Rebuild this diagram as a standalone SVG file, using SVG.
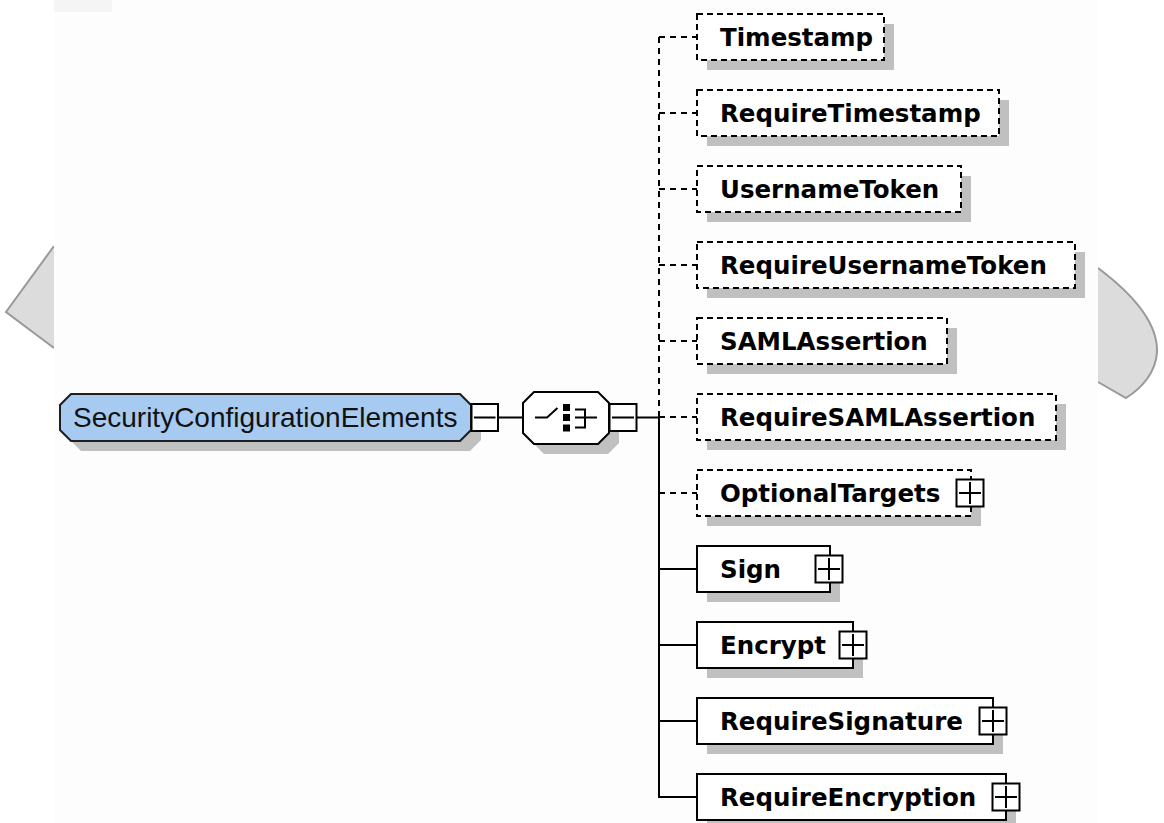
<svg xmlns="http://www.w3.org/2000/svg" width="1164" height="823" viewBox="0 0 1164 823">
<style>
.shadow{fill:#c0c0c0}
.box{fill:#fff;stroke:#000;stroke-width:2}
.opt{stroke-dasharray:6 4}
.lbl{font-family:"DejaVu Sans","Liberation Sans",sans-serif;font-weight:bold;font-size:24.5px;fill:#000}
.conn{stroke:#000;stroke-width:2;fill:none}
.dash{stroke-dasharray:6 5}
.pm{fill:#fff;stroke:#000;stroke-width:2}
.pmline{stroke:#000;stroke-width:2;fill:none}
.deco{fill:#dcdcdc}
.decoline{fill:none;stroke:#999;stroke-width:2}
</style>
<rect x="0" y="0" width="1164" height="823" fill="#ffffff"/>
<g id="decorations">
<path class="deco" d="M6,312 L54,246 L54,348 Z"/>
<path class="decoline" d="M54,246 L6,312 L54,348"/>
<path class="deco" d="M1098,268 C1130,292 1158,322 1157,352 C1156,372 1142,388 1126,398 L1098,382 Z"/>
<path class="decoline" d="M1098,268 C1130,292 1158,322 1157,352 C1156,372 1142,388 1126,398 L1098,382"/>
</g>
<rect x="54" y="0" width="1044" height="823" fill="#fdfdfd"/>
<rect x="54" y="0" width="58" height="12" fill="#f5f5f5"/>

<g id="connectors">
<line class="conn" x1="498" y1="417.5" x2="523" y2="417.5"/>
<line class="conn" x1="636.5" y1="417.5" x2="659" y2="417.5"/>
<line class="conn dash" x1="659" y1="37" x2="659" y2="417"/>
<line class="conn" x1="659" y1="417" x2="659" y2="798"/>
<line class="conn dash" x1="659" y1="37" x2="697" y2="37"/>
<line class="conn dash" x1="659" y1="113" x2="697" y2="113"/>
<line class="conn dash" x1="659" y1="189" x2="697" y2="189"/>
<line class="conn dash" x1="659" y1="265" x2="697" y2="265"/>
<line class="conn dash" x1="659" y1="341" x2="697" y2="341"/>
<line class="conn dash" x1="659" y1="417" x2="697" y2="417"/>
<line class="conn dash" x1="659" y1="493" x2="697" y2="493"/>
<line class="conn" x1="659" y1="569" x2="697" y2="569"/>
<line class="conn" x1="659" y1="645" x2="697" y2="645"/>
<line class="conn" x1="659" y1="721" x2="697" y2="721"/>
<line class="conn" x1="658" y1="797" x2="697" y2="797"/>
</g>

<g id="root">
<polygon class="shadow" points="81,404 470,404 481,415 481,440 470,451 81,451 70,440 70,415"/>
<polygon points="71,394 460,394 471,405 471,430 460,441 71,441 60,430 60,405" fill="#a6caf0" stroke="#1e1e1e" stroke-width="2"/>
<text x="73" y="427" font-family="'Liberation Sans',Arial,sans-serif" font-size="28" fill="#111">SecurityConfigurationElements</text>
<rect class="pm" x="471.5" y="404" width="26.5" height="27"/>
<line class="pmline" x1="474" y1="417.5" x2="495.5" y2="417.5"/>
</g>

<g id="choice">
<polygon class="shadow" points="544,402 608,402 619,413 619,443 608,454 544,454 533,443 533,413"/>
<polygon class="box" points="534,392 598,392 609,403 609,433 598,444 534,444 523,433 523,403"/>
<path class="pmline" d="M535,417.5 H547 L557.5,408"/>
<rect x="563" y="404" width="7" height="7" fill="#000"/>
<rect x="563" y="414" width="7" height="7" fill="#000"/>
<rect x="563" y="424.5" width="7" height="7" fill="#000"/>
<path class="pmline" d="M575,409.5 H585 V427.5 H575 M575,417.5 H597"/>
<rect class="pm" x="609.5" y="404" width="27" height="27"/>
<line class="pmline" x1="612" y1="417.5" x2="634" y2="417.5"/>
</g>

<g id="Timestamp">
<rect class="shadow" x="707" y="24" width="187" height="46"/>
<rect class="box opt" x="697" y="14" width="187" height="46"/>
<text class="lbl" x="720" y="46">Timestamp</text>
</g>
<g id="RequireTimestamp">
<rect class="shadow" x="707" y="100" width="302" height="46"/>
<rect class="box opt" x="697" y="90" width="302" height="46"/>
<text class="lbl" x="720" y="122">RequireTimestamp</text>
</g>
<g id="UsernameToken">
<rect class="shadow" x="707" y="176" width="264" height="46"/>
<rect class="box opt" x="697" y="166" width="264" height="46"/>
<text class="lbl" x="720" y="198">UsernameToken</text>
</g>
<g id="RequireUsernameToken">
<rect class="shadow" x="707" y="252" width="378" height="46"/>
<rect class="box opt" x="697" y="242" width="378" height="46"/>
<text class="lbl" x="720" y="274">RequireUsernameToken</text>
</g>
<g id="SAMLAssertion">
<rect class="shadow" x="707" y="328" width="250" height="46"/>
<rect class="box opt" x="697" y="318" width="250" height="46"/>
<text class="lbl" x="720" y="350">SAMLAssertion</text>
</g>
<g id="RequireSAMLAssertion">
<rect class="shadow" x="707" y="404" width="359" height="46"/>
<rect class="box opt" x="697" y="394" width="359" height="46"/>
<text class="lbl" x="720" y="426">RequireSAMLAssertion</text>
</g>
<g id="OptionalTargets">
<rect class="shadow" x="707" y="480" width="274" height="46"/>
<rect class="box opt" x="697" y="470" width="274" height="46"/>
<text class="lbl" x="720" y="502">OptionalTargets</text>
<rect class="pm" x="956.5" y="479.5" width="27" height="27"/>
<path class="pmline" d="M959,493 H981 M970,482 V504"/>
</g>
<g id="Sign">
<rect class="shadow" x="707" y="556" width="133" height="46"/>
<rect class="box" x="697" y="546" width="133" height="46"/>
<text class="lbl" x="720" y="578">Sign</text>
<rect class="pm" x="815.5" y="555.5" width="27" height="27"/>
<path class="pmline" d="M818,569 H840 M829,558 V580"/>
</g>
<g id="Encrypt">
<rect class="shadow" x="707" y="632" width="156" height="46"/>
<rect class="box" x="697" y="622" width="156" height="46"/>
<text class="lbl" x="720" y="654">Encrypt</text>
<rect class="pm" x="839.5" y="631.5" width="27" height="27"/>
<path class="pmline" d="M842,645 H864 M853,634 V656"/>
</g>
<g id="RequireSignature">
<rect class="shadow" x="707" y="708" width="296" height="46"/>
<rect class="box" x="697" y="698" width="296" height="46"/>
<text class="lbl" x="720" y="730">RequireSignature</text>
<rect class="pm" x="979.5" y="707.5" width="27" height="27"/>
<path class="pmline" d="M982,721 H1004 M993,710 V732"/>
</g>
<g id="RequireEncryption">
<rect class="shadow" x="707" y="784" width="309" height="46"/>
<rect class="box" x="697" y="774" width="309" height="46"/>
<text class="lbl" x="720" y="806">RequireEncryption</text>
<rect class="pm" x="992.5" y="783.5" width="27" height="27"/>
<path class="pmline" d="M995,797 H1017 M1006,786 V808"/>
</g>
</svg>
